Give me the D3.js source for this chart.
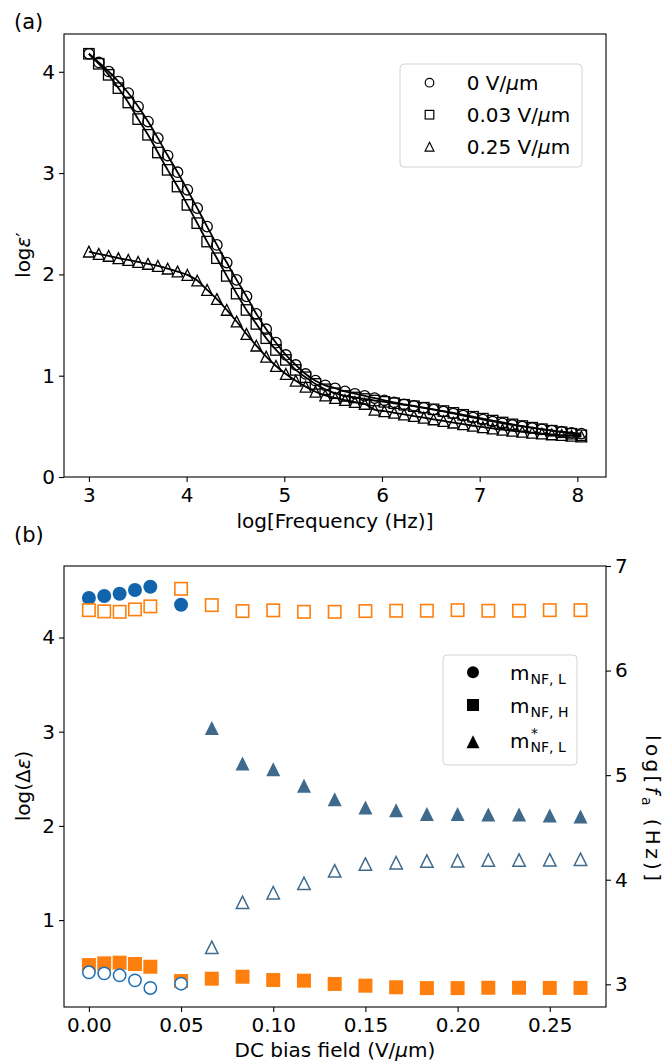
<!DOCTYPE html>
<html><head><meta charset="utf-8">
<script src="https://cdn.jsdelivr.net/npm/d3@7"></script>
<style>body{margin:0;background:#fff} svg{display:block} text{font-family:"DejaVu Sans",sans-serif;fill:#000}</style>
</head><body><svg id="c" width="670" height="1063"></svg>
<script>
// ---------- Panel (a) data ----------
const logFreq = [3.000,3.101,3.202,3.302,3.403,3.504,3.605,3.706,3.806,3.907,4.008,4.109,4.210,4.310,4.411,4.512,4.613,4.714,4.815,4.915,5.016,5.117,5.218,5.319,5.419,5.520,5.621,5.722,5.823,5.924,6.024,6.125,6.226,6.327,6.428,6.528,6.629,6.730,6.831,6.932,7.033,7.133,7.234,7.335,7.436,7.537,7.637,7.738,7.839,7.940,8.041];
const eps0V = [4.178,4.092,4.003,3.904,3.790,3.657,3.509,3.345,3.173,3.009,2.835,2.654,2.472,2.291,2.117,1.946,1.783,1.610,1.459,1.326,1.205,1.106,1.017,0.951,0.905,0.876,0.845,0.822,0.801,0.779,0.757,0.737,0.718,0.702,0.683,0.665,0.647,0.627,0.607,0.587,0.567,0.548,0.530,0.514,0.499,0.484,0.471,0.459,0.447,0.437,0.428];
const eps003V = [4.178,4.079,3.970,3.839,3.697,3.533,3.378,3.203,3.032,2.867,2.686,2.506,2.324,2.160,1.985,1.810,1.649,1.511,1.370,1.254,1.156,1.057,0.985,0.919,0.866,0.827,0.800,0.785,0.770,0.755,0.742,0.728,0.713,0.699,0.684,0.668,0.651,0.633,0.614,0.595,0.576,0.557,0.538,0.520,0.503,0.487,0.472,0.457,0.442,0.427,0.412];
const eps025V = [2.225,2.202,2.183,2.160,2.143,2.123,2.104,2.084,2.057,2.028,1.995,1.939,1.847,1.757,1.650,1.535,1.412,1.297,1.188,1.096,1.017,0.951,0.892,0.842,0.805,0.780,0.760,0.740,0.722,0.665,0.650,0.634,0.618,0.602,0.586,0.569,0.553,0.537,0.521,0.506,0.492,0.479,0.467,0.456,0.446,0.437,0.429,0.421,0.414,0.407,0.400];
const seriesNamesA = ["0 V/\u00b5m","0.03 V/\u00b5m","0.25 V/\u00b5m"];
const freqTicks = [3,4,5,6,7,8];
const epsTicks = [0,1,2,3,4];

// ---------- Panel (b) data ----------
const biasField = [0,0.00833,0.01667,0.025,0.03333,0.05,0.06667,0.08333,0.1,0.11667,0.13333,0.15,0.16667,0.18333,0.2,0.21667,0.23333,0.25,0.26667];
const biasNFL = [0,0.00833,0.01667,0.025,0.03333,0.05];
const dEpsNFL = [4.419,4.441,4.465,4.504,4.539,4.348];
const fNFL = [3.115,3.105,3.086,3.038,2.965,3.006];
const dEpsNFH = [0.523,0.541,0.548,0.534,0.505,0.353,0.378,0.399,0.364,0.357,0.322,0.304,0.287,0.278,0.278,0.282,0.282,0.280,0.280];
const fNFH = [6.578,6.566,6.562,6.585,6.614,6.782,6.626,6.569,6.576,6.562,6.562,6.569,6.572,6.572,6.578,6.572,6.572,6.578,6.578];
const biasStar = [0.06667,0.08333,0.1,0.11667,0.13333,0.15,0.16667,0.18333,0.2,0.21667,0.23333,0.25,0.26667];
const dEpsStar = [3.040,2.662,2.602,2.425,2.284,2.196,2.167,2.125,2.125,2.122,2.122,2.111,2.101];
const fStar = [3.354,3.784,3.876,3.966,4.085,4.150,4.163,4.179,4.182,4.188,4.188,4.191,4.195];
const biasTicks = [0,0.05,0.10,0.15,0.20,0.25];
const dEpsTicks = [1,2,3,4];
const fTicks = [3,4,5,6,7];

const blueC = "#1163ab", slate = "#3f6a8c", orange = "#ff7f0e";
const FS = 20;
const svg = d3.select("#c");

function styleAxis(g){
  g.select(".domain").remove();
  g.selectAll(".tick line").attr("stroke","#000").attr("stroke-width",1.1);
  g.selectAll(".tick text").attr("font-size",FS).attr("font-family","DejaVu Sans").attr("fill","#000");
}
function tri(h){ return `M0,${-h}L${h},${h}L${-h},${h}Z`; }

// ================= Panel (a) =================
const L=64, R=606;
const xA = d3.scaleLinear().domain([2.745,8.293]).range([L,R]);
const yA = d3.scaleLinear().domain([0,4.373]).range([477,34]);

const gA = svg.append("g");
gA.append("g").attr("transform","translate(0,477)")
  .call(d3.axisBottom(xA).tickValues(freqTicks).tickSize(5).tickPadding(6).tickFormat(d3.format("d"))).call(styleAxis);
gA.append("g").attr("transform",`translate(${L},0)`)
  .call(d3.axisLeft(yA).tickValues(epsTicks).tickSize(5).tickPadding(4).tickFormat(d3.format("d"))).call(styleAxis);

const dataA = [eps0V, eps003V, eps025V];
const line = d3.line().x((d,i)=>xA(logFreq[i])).y(d=>yA(d)).curve(d3.curveCatmullRom);
dataA.forEach(s=>{
  gA.append("path").attr("d",line(s)).attr("fill","none").attr("stroke","#000").attr("stroke-width",1.8);
});
// markers
gA.selectAll("circle.c0").data(eps0V).join("circle")
  .attr("cx",(d,i)=>xA(logFreq[i])).attr("cy",d=>yA(d)).attr("r",5.2)
  .attr("fill","none").attr("stroke","#000").attr("stroke-width",1.3);
gA.selectAll("rect.c1").data(eps003V).join("rect")
  .attr("x",(d,i)=>xA(logFreq[i])-5.2).attr("y",d=>yA(d)-5.2).attr("width",10.4).attr("height",10.4)
  .attr("fill","none").attr("stroke","#000").attr("stroke-width",1.3);
gA.selectAll("path.c2").data(eps025V).join("path")
  .attr("transform",(d,i)=>`translate(${xA(logFreq[i])},${yA(d)})`).attr("d",tri(5.4))
  .attr("fill","none").attr("stroke","#000").attr("stroke-width",1.3);

gA.append("rect").attr("x",L).attr("y",34).attr("width",R-L).attr("height",477-34)
  .attr("fill","none").attr("stroke","#000").attr("stroke-width",1.1);

// legend (a)
const lgA = gA.append("g");
lgA.append("rect").attr("x",400).attr("y",64).attr("width",182).attr("height",103).attr("rx",4)
  .attr("fill","#fff").attr("fill-opacity",0.8).attr("stroke","#d3d3d3").attr("stroke-width",1);
const rowsA = [82.7,114.7,146.7];
lgA.append("circle").attr("cx",429.5).attr("cy",rowsA[0]).attr("r",4.3).attr("fill","none").attr("stroke","#000").attr("stroke-width",1.2);
lgA.append("rect").attr("x",425.2).attr("y",rowsA[1]-4.3).attr("width",8.6).attr("height",8.6).attr("fill","none").attr("stroke","#000").attr("stroke-width",1.2);
lgA.append("path").attr("transform",`translate(429.5,${rowsA[2]})`).attr("d",tri(4.4)).attr("fill","none").attr("stroke","#000").attr("stroke-width",1.2);
seriesNamesA.forEach((nm,i)=>{
  const parts = nm.split("\u00b5");
  const t = lgA.append("text").attr("x",466.7).attr("y",rowsA[i]+7.3).attr("font-size",FS);
  t.append("tspan").text(parts[0]);
  t.append("tspan").attr("font-style","italic").text("\u03bc");
  t.append("tspan").text(parts[1]);
});

// labels (a)
svg.append("text").attr("x",335).attr("y",528).attr("text-anchor","middle").attr("font-size",FS).text("log[Frequency (Hz)]");
const yla = svg.append("text").attr("transform","translate(30,255) rotate(-90)").attr("text-anchor","middle").attr("font-size",FS);
yla.append("tspan").text("log");
yla.append("tspan").attr("font-style","italic").text("\u03b5");
yla.append("tspan").text("\u2032");
svg.append("text").attr("x",14).attr("y",29).attr("font-size",21).text("(a)");
svg.append("text").attr("x",14).attr("y",542).attr("font-size",21).text("(b)");

// ================= Panel (b) =================
const T=566, B=1007;
const xB = d3.scaleLinear().domain([-0.0135,0.2805]).range([L,R]);
const yL = d3.scaleLinear().domain([0.0775,4.759]).range([B,T]);
const yR = d3.scaleLinear().domain([2.783,7.0]).range([B,T]);

const gB = svg.append("g");
gB.append("g").attr("transform",`translate(0,${B})`)
  .call(d3.axisBottom(xB).tickValues(biasTicks).tickSize(5).tickPadding(6).tickFormat(d3.format(".2f"))).call(styleAxis);
gB.append("g").attr("transform",`translate(${L},0)`)
  .call(d3.axisLeft(yL).tickValues(dEpsTicks).tickSize(5).tickPadding(4).tickFormat(d3.format("d"))).call(styleAxis);
gB.append("g").attr("transform",`translate(${R},0)`)
  .call(d3.axisRight(yR).tickValues(fTicks).tickSize(5).tickPadding(4).tickFormat(d3.format("d"))).call(styleAxis);

// filled (left axis)
gB.selectAll("rect.fh").data(dEpsNFH).join("rect")
  .attr("x",(d,i)=>xB(biasField[i])-7).attr("y",d=>yL(d)-7).attr("width",14).attr("height",14).attr("fill",orange);
gB.selectAll("circle.fl").data(dEpsNFL).join("circle")
  .attr("cx",(d,i)=>xB(biasNFL[i])).attr("cy",d=>yL(d)).attr("r",7).attr("fill",blueC);
gB.selectAll("path.fs").data(dEpsStar).join("path")
  .attr("transform",(d,i)=>`translate(${xB(biasStar[i])},${yL(d)})`).attr("d",tri(7)).attr("fill",slate);
// open (right axis)
gB.selectAll("rect.oh").data(fNFH).join("rect")
  .attr("x",(d,i)=>xB(biasField[i])-6.2).attr("y",d=>yR(d)-6.2).attr("width",12.4).attr("height",12.4)
  .attr("fill","#fff").attr("stroke",orange).attr("stroke-width",1.6);
gB.selectAll("circle.ol").data(fNFL).join("circle")
  .attr("cx",(d,i)=>xB(biasNFL[i])).attr("cy",d=>yR(d)).attr("r",6.2)
  .attr("fill","#fff").attr("stroke","#1f6fb4").attr("stroke-width",1.5);
gB.selectAll("path.os").data(fStar).join("path")
  .attr("transform",(d,i)=>`translate(${xB(biasStar[i])},${yR(d)})`).attr("d",tri(6.2))
  .attr("fill","#fff").attr("stroke",slate).attr("stroke-width",1.5);

gB.append("rect").attr("x",L).attr("y",T).attr("width",R-L).attr("height",B-T)
  .attr("fill","none").attr("stroke","#000").attr("stroke-width",1.1);

// legend (b)
const lgB = gB.append("g");
lgB.append("rect").attr("x",443).attr("y",655).attr("width",134).attr("height",110).attr("rx",4)
  .attr("fill","#fff").attr("fill-opacity",0.8).attr("stroke","#d3d3d3").attr("stroke-width",1);
lgB.append("circle").attr("cx",473).attr("cy",672.3).attr("r",6).attr("fill","#000");
lgB.append("rect").attr("x",467).attr("y",699).attr("width",12).attr("height",12).attr("fill","#000");
lgB.append("path").attr("transform","translate(473,741.7)").attr("d",tri(6.5)).attr("fill","#000");
const legB = [{base:680,sub:"NF, L",star:false},{base:713,sub:"NF, H",star:false},{base:748,sub:"NF, L",star:true}];
legB.forEach(e=>{
  lgB.append("text").attr("x",510).attr("y",e.base).attr("font-size",FS).text("m");
  lgB.append("text").attr("x",530.5).attr("y",e.base+4).attr("font-size",14).text(e.sub);
  if(e.star) lgB.append("text").attr("x",531).attr("y",e.base-10).attr("font-size",14).text("*");
});

// labels (b)
svg.append("text").attr("x",335).attr("y",1057).attr("text-anchor","middle").attr("font-size",FS)
  .call(t=>{t.append("tspan").text("DC bias field (V/");t.append("tspan").attr("font-style","italic").text("\u03bc");t.append("tspan").text("m)");});
const ylb = svg.append("text").attr("transform","translate(30,786) rotate(-90)").attr("text-anchor","middle").attr("font-size",FS);
ylb.append("tspan").text("log(\u0394");
ylb.append("tspan").attr("font-style","italic").text("\u03b5");
ylb.append("tspan").text(")");
const yrb = svg.append("text").attr("transform","translate(646,808) rotate(90)").attr("text-anchor","middle").attr("font-size",FS)
  .attr("textLength",146).attr("lengthAdjust","spacing");
yrb.append("tspan").text("log[");
yrb.append("tspan").attr("font-style","italic").text("f");
yrb.append("tspan").attr("font-size",14).attr("dy",4).text("a");
yrb.append("tspan").attr("dy",-4).text(" (Hz)]");
</script></body></html>
